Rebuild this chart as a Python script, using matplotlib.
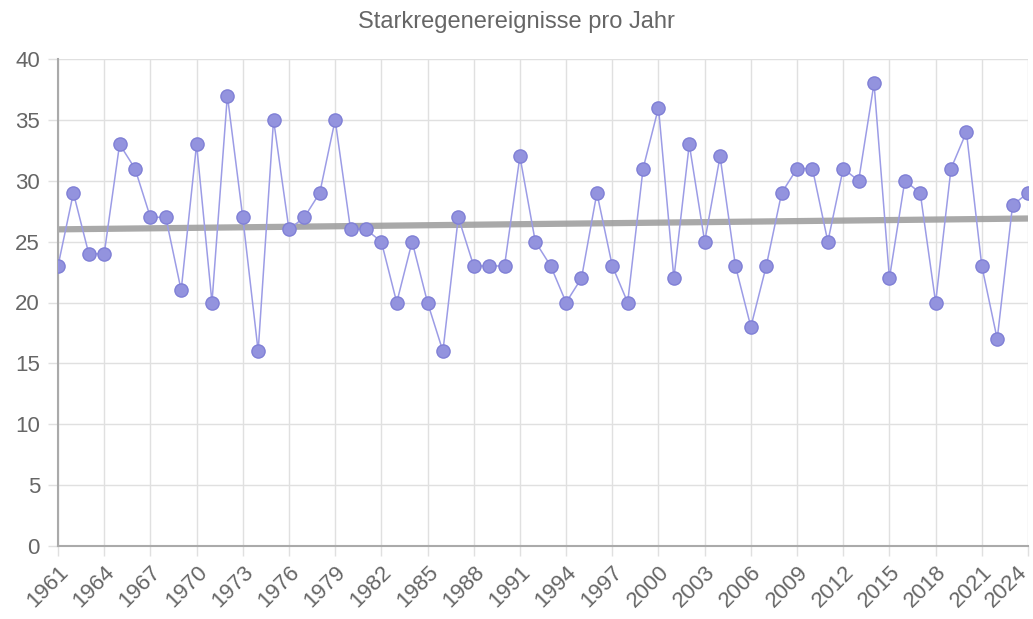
import matplotlib
matplotlib.use("Agg")
import matplotlib.pyplot as plt
import matplotlib.transforms as mtransforms
import numpy as np

plt.rcParams["font.family"] = ["Liberation Sans", "DejaVu Sans"]

years = list(range(1961, 2025))
events = [23, 29, 24, 24, 33, 31, 27, 27, 21, 33,
          20, 37, 27, 16, 35, 26, 27, 29, 35, 26,
          26, 25, 20, 25, 20, 16, 27, 23, 23, 23,
          32, 25, 23, 20, 22, 29, 23, 20, 31, 36,
          22, 33, 25, 32, 23, 18, 23, 29, 31, 31,
          25, 31, 30, 38, 22, 30, 29, 20, 31, 34,
          23, 17, 28, 29]

# linear trend
coef = np.polyfit(years, events, 1)
trend = np.polyval(coef, years)

fig = plt.figure(figsize=(10.33, 6.19), dpi=100)
ax = fig.add_axes([58 / 1033, 73 / 619, 970 / 1033, 487 / 619])

ax.plot(years, trend, color="#a0a0a0", lw=4.5, alpha=0.9, solid_capstyle="butt", zorder=2)
ax.plot(years, events, color="#9c9ce6", lw=1.1, zorder=3,
        marker="o", markersize=9.5, markerfacecolor="#9393de",
        markeredgecolor="#8080d6", markeredgewidth=1.0)

ax.set_xlim(1961, 2024)
ax.set_ylim(0, 40)
ax.set_xticks(years[::3])
ax.set_yticks(range(0, 41, 5))
ax.grid(True, color="#e0e0e0", lw=1)
ax.set_axisbelow(True)
for s in ["top", "right"]:
    ax.spines[s].set_visible(False)
for s in ["left", "bottom"]:
    ax.spines[s].set_color("#aaaaaa")
    ax.spines[s].set_linewidth(1.5)
ax.tick_params(colors="#e0e0e0", labelcolor="#666666", labelsize=16, length=7, width=1)
ax.tick_params(axis="y", pad=6)
ax.tick_params(axis="x", pad=4)
xlabels = ax.get_xticklabels()
plt.setp(xlabels, rotation=45, ha="right", rotation_mode="anchor")
# nudge the last label so it stays inside the figure
last = xlabels[-1]
last.set_transform(last.get_transform() + mtransforms.ScaledTranslation(-11 / 100, 0, fig.dpi_scale_trans))

fig.text(0.5, 1 - 22 / 619, "Starkregenereignisse pro Jahr", color="#666666",
         fontsize=17, ha="center", va="center")

fig.savefig("out.png", dpi=100)
